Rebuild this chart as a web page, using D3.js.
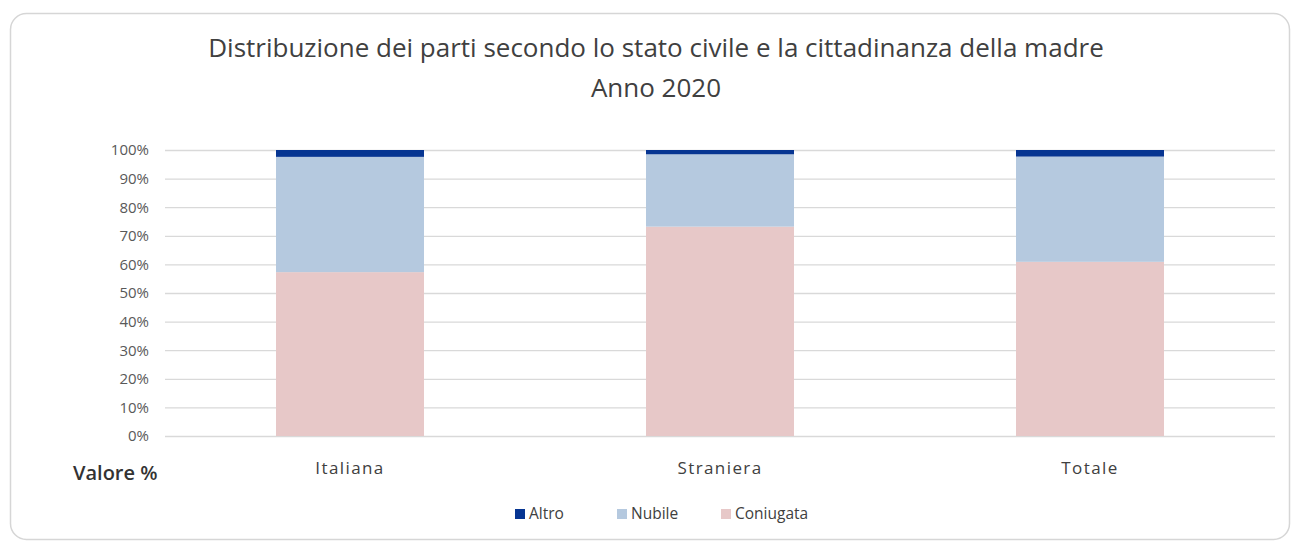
<!DOCTYPE html>
<html>
<head>
<meta charset="utf-8">
<script src="https://cdn.jsdelivr.net/npm/d3@7"></script>
<style>
  body { margin: 0; background: #fff; }
  text { font-family: "Open Sans", "Liberation Sans", sans-serif; }
</style>
</head>
<body>
<div id="chart"></div>
<script>
var categories = ['Italiana', 'Straniera', 'Totale']
var seriesNames = ['Coniugata', 'Nubile', 'Altro']
var coniugata = [57.3, 73.2, 60.9]
var nubile = [40.3, 25.3, 36.8]
var altro = [2.4, 1.5, 2.3]
var yTicks = [0, 10, 20, 30, 40, 50, 60, 70, 80, 90, 100]
var legendOrder = ['Altro', 'Nubile', 'Coniugata']

var width = 1295, height = 543
var margin = {top: 150, left: 165, right: 20, bottom: 107}
var plotW = width - margin.left - margin.right
var plotH = 436 - margin.top

var color = d3.scaleOrdinal()
  .domain(['Coniugata', 'Nubile', 'Altro'])
  .range(['#e7c8c8', '#b5c9df', '#063592'])

var table = categories.map(function(c, i) {
  return {cat: c, Coniugata: coniugata[i], Nubile: nubile[i], Altro: altro[i]}
})
var stack = d3.stack().keys(seriesNames)(table)

var svg = d3.select('#chart').append('svg')
  .attr('width', width).attr('height', height)

svg.append('rect')
  .attr('x', 10.5).attr('y', 13.5)
  .attr('width', 1279).attr('height', 526)
  .attr('rx', 16)
  .attr('fill', '#fff').attr('stroke', '#d6d6d6').attr('stroke-width', 1.5)

svg.append('text')
  .attr('x', 656).attr('y', 57)
  .attr('text-anchor', 'middle')
  .attr('font-size', 26).attr('fill', '#404040')
  .text('Distribuzione dei parti secondo lo stato civile e la cittadinanza della madre')
svg.append('text')
  .attr('x', 656).attr('y', 97)
  .attr('text-anchor', 'middle')
  .attr('font-size', 26).attr('fill', '#404040')
  .text('Anno 2020')

var g = svg.append('g')
  .attr('transform', 'translate(' + margin.left + ',' + margin.top + ')')

var x = d3.scaleBand().domain(categories).range([0, plotW]).paddingInner(0.6).paddingOuter(0.3)
var y = d3.scaleLinear().domain([0, 100]).range([plotH, 0])

g.append('g')
  .call(d3.axisLeft(y).tickValues(yTicks).tickSize(-plotW).tickFormat(function(d) { return d + '%' }))
  .call(function(a) {
    a.select('.domain').remove()
    a.selectAll('.tick line').attr('stroke', '#d9d9d9').attr('stroke-width', 1.3)
    a.selectAll('.tick text').attr('x', -16).attr('font-size', 15).attr('fill', '#595959')
  })

g.selectAll('.series')
  .data(stack)
  .enter().append('g')
  .attr('fill', function(d) { return color(d.key) })
  .selectAll('rect')
  .data(function(d) { return d })
  .enter().append('rect')
  .attr('x', function(d) { return x(d.data.cat) })
  .attr('width', x.bandwidth())
  .attr('y', function(d) { return y(d[1]) })
  .attr('height', function(d) { return y(d[0]) - y(d[1]) })

g.append('g')
  .attr('transform', 'translate(0,' + plotH + ')')
  .call(d3.axisBottom(x).tickSize(0))
  .call(function(a) {
    a.select('.domain').remove()
    a.selectAll('.tick text').attr('dy', 0).attr('y', 38).attr('font-size', 17)
      .attr('fill', '#404040').attr('letter-spacing', 1.4)
  })

svg.append('text')
  .attr('x', 73).attr('y', 480)
  .attr('font-size', 20).attr('font-weight', 600).attr('fill', '#333')
  .text('Valore %')

var legendX = [515, 617, 721]
var legend = svg.selectAll('.legend')
  .data(legendOrder)
  .enter().append('g')
  .attr('class', 'legend')
  .attr('transform', function(d, i) { return 'translate(' + legendX[i] + ',514)' })
legend.append('rect')
  .attr('x', 0).attr('y', -5).attr('width', 10).attr('height', 10)
  .attr('fill', color)
legend.append('text')
  .attr('x', 14).attr('y', 0).attr('dy', '0.35em')
  .attr('font-size', 15.5).attr('fill', '#404040')
  .text(function(d) { return d })
</script>
</body>
</html>
